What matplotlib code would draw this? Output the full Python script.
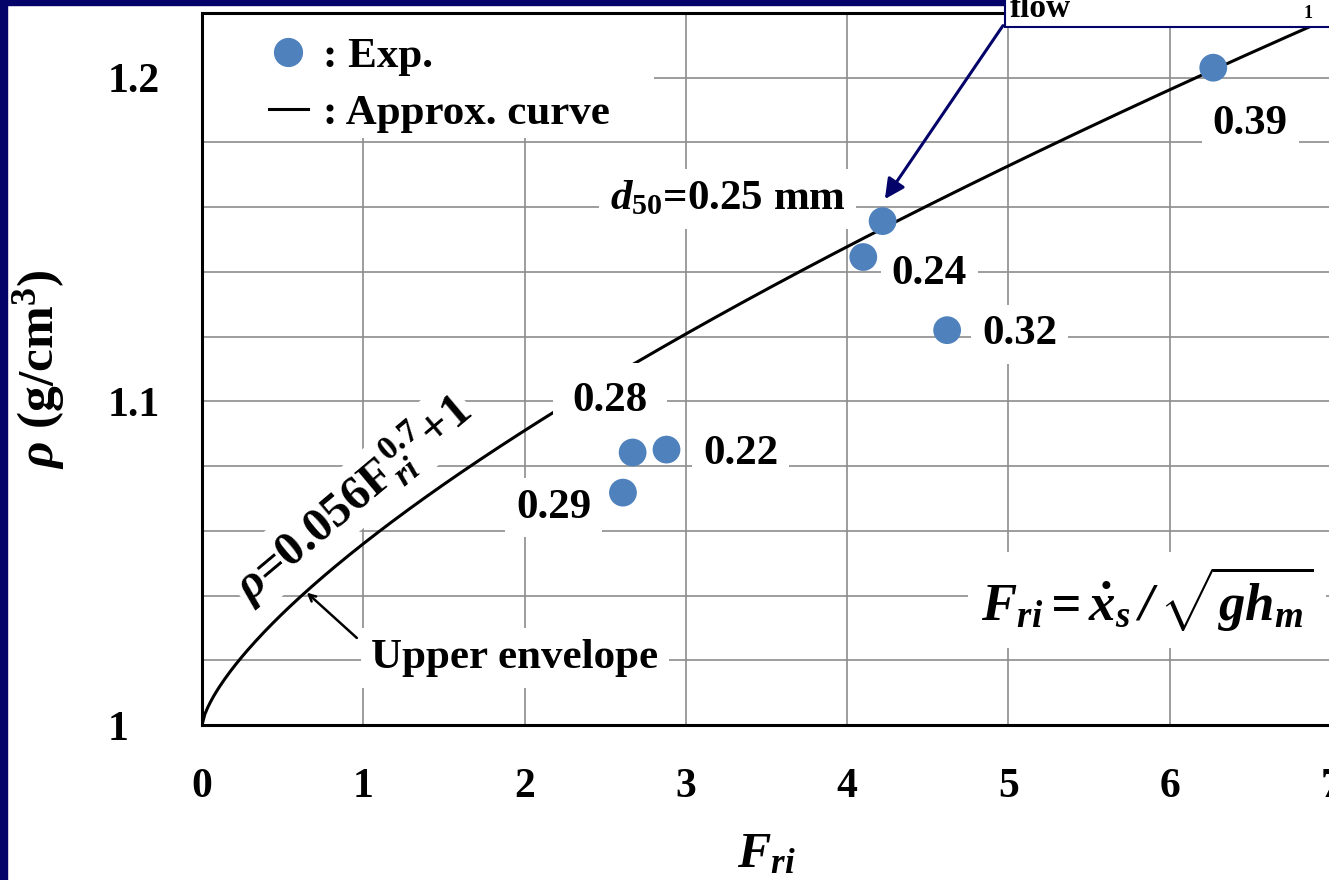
import numpy as np
import matplotlib

matplotlib.use("Agg")
import matplotlib.pyplot as plt
from matplotlib.lines import Line2D
from matplotlib.patches import Rectangle
from matplotlib.ticker import MultipleLocator

# measured points: Richardson number F_ri vs. density rho
fri_exp = [6.27, 4.22, 4.10, 4.62, 2.67, 2.88, 2.61]
rho_exp = [1.2031, 1.1557, 1.1446, 1.1220, 1.0842, 1.0851, 1.0718]

# upper envelope as printed on the chart: rho = 0.056 * F_ri**0.7 + 1
curve_coef = 0.056
curve_exp = 0.7
curve_fri = np.linspace(0.0, 7.0, 400)

# d50 labels next to the points (mm)
d50_labels = ["0.39", "0.24", "0.32", "0.22", "0.28", "0.29"]
d50_label_x = [6.50, 4.51, 5.07, 3.34, 2.53, 2.18]
d50_label_y = [1.1858, 1.1393, 1.1207, 1.0836, 1.1000, 1.0672]

x_ticks = [0, 1, 2, 3, 4, 5, 6, 7]
y_ticks = [1.0, 1.1, 1.2]
y_tick_labels = ["1", "1.1", "1.2"]

NAVY = "#03036a"
BLUE = "#4f81bd"
GRID = "#8c8c8c"
W, H = 1329, 880

plt.rcParams.update({
    "font.family": "Liberation Serif",
    "font.weight": "bold",
    "axes.labelweight": "bold",
    "mathtext.fontset": "custom",
    "mathtext.rm": "Liberation Serif:bold",
    "mathtext.it": "Liberation Serif:italic:bold",
    "mathtext.bf": "Liberation Serif:bold",
    "mathtext.sf": "Liberation Serif:italic",
})

fig = plt.figure(figsize=(W / 100, H / 100), dpi=100)
ax = fig.add_axes([202 / W, 155 / H, 1129 / W, 712 / H])

rho_curve = curve_coef * curve_fri ** curve_exp + 1
ax.plot(curve_fri, rho_curve, color="black", lw=2.2, zorder=2)
ax.scatter(fri_exp, rho_exp, s=400, color=BLUE, edgecolors="none", zorder=4)

ax.set_xlim(0, 7)
ax.set_ylim(1.0, 1.22)
ax.set_xticks(x_ticks)
ax.set_xticklabels([str(v) for v in x_ticks])
ax.set_yticks(y_ticks)
ax.set_yticklabels(y_tick_labels)
ax.yaxis.set_minor_locator(MultipleLocator(0.02))
ax.set_axisbelow(True)
ax.grid(which="both", axis="y", color=GRID, lw=1.2)
ax.grid(which="major", axis="x", color=GRID, lw=1.2)
ax.tick_params(which="both", length=0)
ax.tick_params(axis="x", labelsize=30, pad=31)
ax.tick_params(axis="y", labelsize=30, pad=67.7)
for lbl in ax.get_yticklabels():
    lbl.set_horizontalalignment("left")
for side in ("left", "bottom", "top"):
    ax.spines[side].set_linewidth(2.2)
ax.spines["right"].set_visible(False)

ax.set_xlabel(r"$F_{ri}$", fontsize=36)
ax.xaxis.set_label_coords(0.5, -0.15)
ax.set_ylabel(r"$\rho$ (g/cm$^3$)", fontsize=37)
ax.yaxis.set_label_coords(-0.12, 0.5)

# legend sits on a white patch that hides the grid behind it
ax.add_patch(Rectangle((0, 0.824), 0.40, 0.176, transform=ax.transAxes,
                       facecolor="white", edgecolor="none", zorder=1.5))
handles = [
    Line2D([], [], marker="o", ls="none", ms=20, mfc=BLUE, mec=BLUE),
    Line2D([], [], color="black", lw=2.2),
]
ax.legend(handles, [": Exp.", ": Approx. curve"], loc="upper left",
          bbox_to_anchor=(0.044, 0.99), borderaxespad=0, frameon=False,
          handlelength=0.9, handletextpad=0.35, labelspacing=0.4,
          prop={"size": 31, "weight": "bold"})

box = dict(boxstyle="square,pad=0.25", facecolor="white", edgecolor="none")
for text, x, y in zip(d50_labels, d50_label_x, d50_label_y):
    pad = 0.45 if text == "0.28" else 0.25
    ax.text(x, y, text, fontsize=31, ha="center", va="center", zorder=3,
            bbox=dict(box, boxstyle=f"square,pad={pad}"))

ax.text(3.26, 1.1625, r"$d_{50}$=0.25 mm", fontsize=31, ha="center",
        va="center", zorder=3, bbox=box)
ax.text(0.93, 1.0702, r"$\rho$=0.056F$_{ri}^{\,0.7}$+1", fontsize=35,
        rotation=40, rotation_mode="anchor", ha="center", va="center",
        zorder=3, bbox=dict(box, boxstyle="square,pad=0.05"))
ax.text(1.94, 1.0207, "Upper envelope", fontsize=31, ha="center",
        va="center", zorder=3, bbox=box)
ax.annotate("", xy=(0.65, 1.0409), xytext=(0.96, 1.0269),
            arrowprops=dict(arrowstyle="->", color="black", lw=1.8,
                            mutation_scale=12, shrinkA=0, shrinkB=0))
ax.text(5.86, 1.0387, r"$\mathsf{F_{ri} = \dot{x}_s\, /\, \sqrt{g h_m}}$",
        fontsize=38, fontweight="normal", ha="center", va="center",
        zorder=3, bbox=box)

# slide decoration: navy frame strips and the cut-off callout box
fig.add_artist(Rectangle((0, 0), 7 / W, 1, transform=fig.transFigure,
                         color=NAVY, zorder=5))
fig.add_artist(Rectangle((0, 1 - 5 / H), 1, 5 / H, transform=fig.transFigure,
                         color=NAVY, zorder=5))
fig.add_artist(Rectangle((1005 / W, 1 - 27 / H), 0.5, 0.2,
                         transform=fig.transFigure, facecolor="white",
                         edgecolor=NAVY, lw=1.5, zorder=6))
fig.text(1010 / W, 1 - 17 / H, "flow", fontsize=24, ha="left",
         va="baseline", zorder=7)
fig.text(1308 / W, 1 - 13 / H, "1", fontsize=13, ha="center",
         va="center", zorder=7)
ax.annotate("", xy=(4.234, 1.1625), xytext=(4.966, 1.2161),
            annotation_clip=False, zorder=8,
            arrowprops=dict(arrowstyle="-|>", color=NAVY, lw=2.2,
                            mutation_scale=30, shrinkA=0, shrinkB=0))

fig.savefig("out.png", dpi=100)
